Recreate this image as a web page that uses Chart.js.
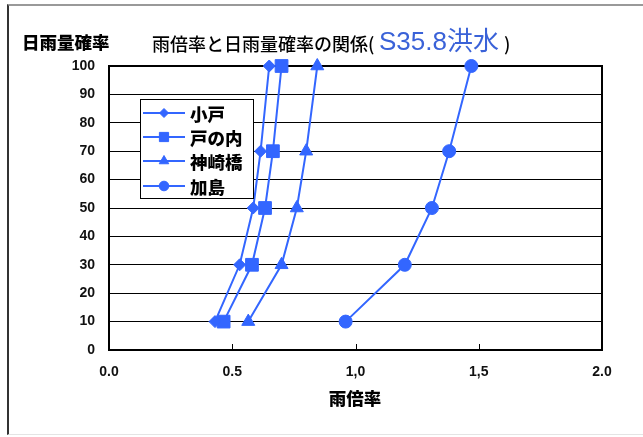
<!DOCTYPE html>
<html>
<head>
<meta charset="utf-8">
<script src="https://cdn.jsdelivr.net/npm/chart.js@4/dist/chart.umd.min.js"></script>
<style>
html, body { margin: 0; padding: 0; background: #fff; }
#wrap { position: relative; width: 643px; height: 437px; overflow: hidden; }
#frame { position: absolute; left: 7px; top: 4px; width: 700px; height: 428px;
  border-left: 2px solid #333; border-top: 2px solid #999; border-bottom: 1px solid #e4e4e4; }
canvas { position: absolute; left: 0; top: 0; }
</style>
</head>
<body>
<div id="wrap"><div id="frame"></div><canvas id="c" width="643" height="437"></canvas></div>
<script>
// 日雨量確率 (y) と各地点の雨倍率 (x)
const rainProb = [10, 30, 50, 70, 100];
const odo = [0.43, 0.53, 0.585, 0.615, 0.65];
const tonouchi = [0.465, 0.58, 0.633, 0.665, 0.70];
const kanzaki = [0.565, 0.70, 0.762, 0.80, 0.845];
const kashima = [0.96, 1.20, 1.31, 1.38, 1.47];
const seriesNames = ['小戸', '戸の内', '神崎橋', '加島'];
const xTickLabels = ['0.0', '0.5', '1,0', '1,5', '2.0'];

const BLUE = '#3366ff';
const JP = '"Noto Sans CJK JP", sans-serif';
const LAT = '"Liberation Sans", "Noto Sans CJK JP", sans-serif';
const series = [odo, tonouchi, kanzaki, kashima];
const styles = ['rectRot', 'rect', 'triangle', 'circle'];
const radii = [6, 9, 7.5, 6.5];
const legendRadii = [4.5, 6.5, 5.5, 4.8];

const datasets = seriesNames.map((name, i) => ({
    label: name,
    data: series[i].map((x, j) => ({x: x, y: rainProb[j]})),
    showLine: true,
    clip: false,
    borderColor: BLUE,
    backgroundColor: BLUE,
    borderWidth: 2,
    pointStyle: styles[i],
    pointRadius: radii[i],
    pointHoverRadius: radii[i],
    pointBorderWidth: 1
}));

const framePlugin = {
    id: 'frame',
    beforeDatasetsDraw(chart) {
        const {ctx, chartArea: a} = chart;
        const xs = chart.scales.x;
        ctx.save();
        ctx.strokeStyle = '#000';
        ctx.lineWidth = 2;
        ctx.strokeRect(a.left, a.top, a.right - a.left, a.bottom - a.top);
        ctx.lineWidth = 1;
        [0.5, 1.0, 1.5].forEach(v => {
            const px = Math.round(xs.getPixelForValue(v)) + 0.5;
            ctx.beginPath();
            ctx.moveTo(px, a.bottom);
            ctx.lineTo(px, a.bottom - 6);
            ctx.stroke();
        });
        ctx.restore();
    }
};

const textPlugin = {
    id: 'texts',
    afterDraw(chart) {
        const ctx = chart.ctx;
        ctx.save();
        ctx.textBaseline = 'middle';
        ctx.fillStyle = '#000';

        // y axis title
        ctx.textAlign = 'left';
        ctx.font = '900 17.5px ' + JP;
        ctx.fillText('日雨量確率', 22, 42);

        // chart title
        ctx.font = '500 18px ' + JP;
        ctx.fillText('雨倍率と日雨量確率の関係(', 152, 44);
        ctx.fillStyle = '#3a62d8';
        ctx.font = '26px ' + LAT;
        ctx.fillText('S35.8洪水', 379, 43);
        ctx.fillStyle = '#000';
        ctx.font = '500 18px ' + JP;
        ctx.fillText(')', 504, 44);

        // x axis title
        ctx.textAlign = 'center';
        ctx.font = '900 17.5px ' + JP;
        ctx.fillText('雨倍率', 355, 398);

        // legend
        ctx.fillStyle = '#fff';
        ctx.fillRect(140.5, 99.5, 113, 99);
        ctx.strokeStyle = '#000';
        ctx.lineWidth = 1;
        ctx.strokeRect(140.5, 99.5, 113, 99);
        const rows = [113, 137, 161, 186];
        ctx.textAlign = 'left';
        ctx.font = '900 17.5px ' + JP;
        seriesNames.forEach((name, i) => {
            const y = rows[i];
            ctx.strokeStyle = BLUE;
            ctx.fillStyle = BLUE;
            ctx.lineWidth = 2;
            ctx.beginPath();
            ctx.moveTo(143, y);
            ctx.lineTo(185, y);
            ctx.stroke();
            ctx.lineWidth = 1;
            Chart.helpers.drawPoint(ctx, {pointStyle: styles[i], radius: legendRadii[i], rotation: 0, borderWidth: 1}, 164, y);
            ctx.fillStyle = '#000';
            ctx.fillText(name, 190, y + 1);
        });
        ctx.restore();
    }
};

new Chart(document.getElementById('c'), {
    type: 'scatter',
    data: {datasets: datasets},
    options: {
        responsive: false,
        animation: false,
        layout: {padding: {top: 66, right: 41, left: 0, bottom: 0}},
        plugins: {
            legend: {display: false},
            title: {display: false},
            tooltip: {enabled: false}
        },
        scales: {
            x: {
                type: 'linear',
                min: 0,
                max: 2,
                afterFit: s => { s.height = 87; },
                ticks: {
                    stepSize: 0.5,
                    padding: 14,
                    color: '#111',
                    font: {family: LAT, size: 14, weight: 'bold'},
                    callback: (v, i) => xTickLabels[i]
                },
                grid: {display: false, drawTicks: false},
                border: {display: false}
            },
            y: {
                min: 0,
                max: 100,
                afterFit: s => { s.width = 109; },
                ticks: {
                    stepSize: 10,
                    padding: 14,
                    color: '#111',
                    font: {family: LAT, size: 14, weight: 'bold'}
                },
                grid: {
                    color: c => (c.tick.value === 0 || c.tick.value === 100) ? 'rgba(0,0,0,0)' : '#000',
                    lineWidth: 1,
                    drawTicks: false
                },
                border: {display: false}
            }
        }
    },
    plugins: [framePlugin, textPlugin]
});
</script>
</body>
</html>
